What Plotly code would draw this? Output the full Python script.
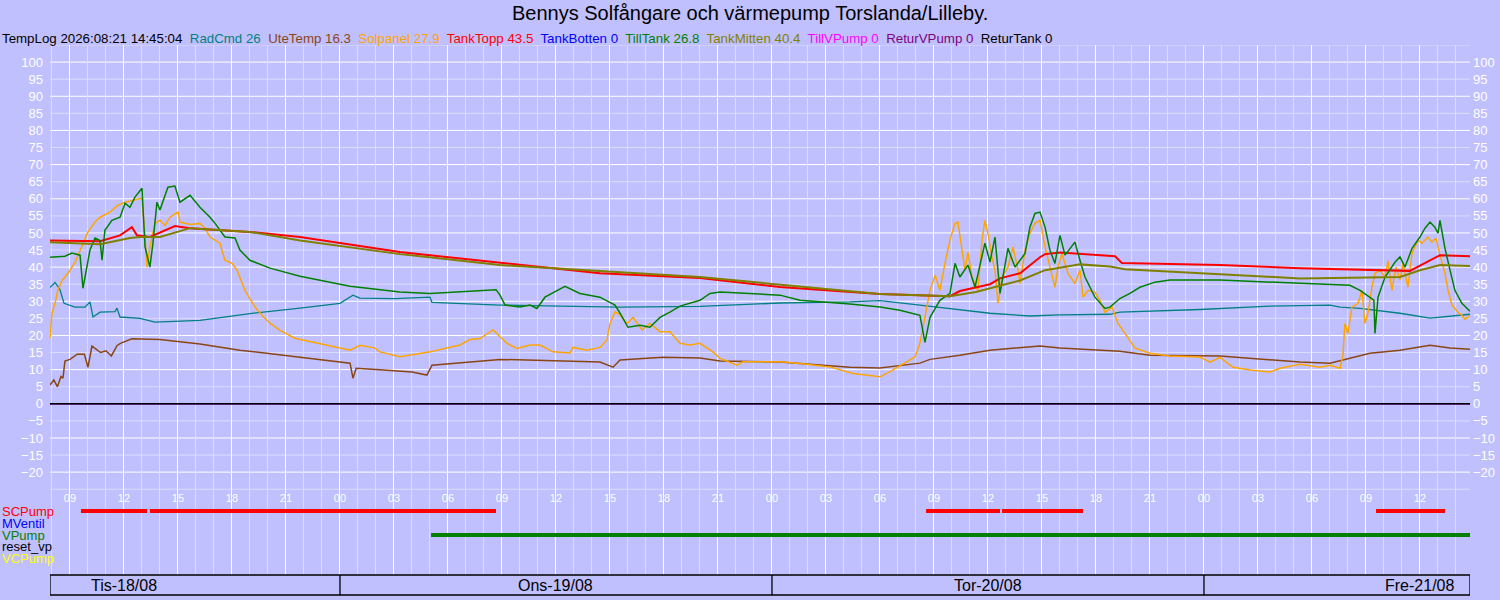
import pandas as pd
import plotly.graph_objects as go

# time axis: hours after 2026-08-18 00:00
BASE = pd.Timestamp("2026-08-18 00:00")
T_START = 7.89
T_END = 86.78

# --- temperature series (hours, degC) ---
radcmd_h = [7.89, 8.17, 8.44, 8.56, 8.67, 9.28, 9.83, 10.11, 10.28, 10.67, 11.5, 11.61, 11.78, 12.89, 13.72,
            16.22, 19.0, 21.78, 24.0, 24.72, 25.11, 27.06, 29.0, 29.11, 32.89, 36.22, 39.56, 44.0, 48.44,
            52.33, 54.0, 56.22, 57.89, 60.11, 62.33, 64.0, 66.78, 67.33, 71.78, 75.67, 79.0, 79.56, 80.67,
            82.89, 84.56, 86.22, 86.78]
radcmd_v = [34, 35.5, 33.5, 31, 29.4, 28.3, 28.3, 29.8, 25.4, 26.8, 27, 28, 25.4, 25, 23.9,
            24.4, 26.4, 28, 29.4, 31.8, 30.9, 30.8, 31.2, 29.7, 28.9, 28.6, 28.3, 28.5, 29.5,
            29.8, 30.2, 28.9, 27.9, 26.5, 25.7, 26, 26.2, 26.8, 27.6, 28.6, 28.9, 28.3, 27.9,
            26.5, 25.1, 26, 26.2]

ute_h = [7.89, 8.1, 8.3, 8.5, 8.61, 8.72, 9.0, 9.4, 9.8, 10.0, 10.22, 10.7, 11.0, 11.3, 11.61, 11.8, 12.44,
         13.17, 14.0, 16.22, 18.44, 21.78, 24.56, 24.72, 24.9, 26.22, 28.0, 28.83, 29.11, 32.89, 38.44,
         39.17, 39.56, 41.94, 44.0, 45.11, 48.44, 52.33, 54.0, 56.22, 56.78, 58.44, 60.11, 62.89, 64.0,
         67.33, 69.0, 72.89, 74.56, 77.33, 79.0, 80.11, 81.22, 82.89, 84.56, 85.67, 86.78]
ute_v = [5.5, 7, 5, 8, 7.5, 12.5, 13, 14.5, 14.5, 10.7, 16.9, 15, 15.5, 14, 17, 17.7, 19,
         19, 18.8, 17.5, 15.7, 13.6, 11.9, 7.5, 10.4, 10, 9.3, 8.4, 11.3, 13, 12.2,
         10.7, 12.8, 13.6, 13.4, 12.5, 12.2, 10.7, 10.5, 11.9, 13, 14.2, 15.7, 16.9, 16.3,
         15.4, 14.2, 14, 13.3, 12.2, 11.9, 13.3, 14.8, 15.7, 17.1, 16.3, 16]

sol_h = [7.89, 8.0, 8.17, 8.33, 8.56, 8.89, 9.28, 9.56, 10.0, 10.39, 10.67, 11.22, 11.67, 12.06, 12.61, 13.0,
         13.17, 13.28, 13.44, 13.72, 14.0, 14.28, 14.56, 15.0, 15.11, 15.67, 16.22, 16.5, 16.78, 17.33,
         17.61, 18.0, 18.28, 18.72, 19.28, 19.67, 20.11, 20.67, 21.5, 22.89, 24.0, 24.56, 25.11, 25.94,
         26.22, 27.33, 28.44, 29.0, 30.67, 31.22, 31.78, 32.5, 32.89, 33.28, 33.83, 34.56, 35.11, 35.83,
         36.78, 36.94, 37.72, 38.44, 38.83, 39.0, 39.28, 39.56, 39.94, 40.28, 40.78, 41.22, 41.78, 42.33,
         42.89, 43.44, 44.0, 44.72, 45.11, 46.06, 46.39, 48.44, 49.56, 51.22, 52.5, 54.0, 54.56, 54.72,
         55.39, 55.94, 56.22, 56.5, 56.78, 57.06, 57.33, 57.61, 57.89, 58.17, 58.33, 58.56, 58.72, 58.89,
         59.11, 59.44, 59.67, 59.83, 60.0, 60.22, 60.39, 60.56, 60.78, 61.11, 61.39, 61.67, 61.78, 62.06,
         62.33, 62.61, 62.89, 63.17, 63.44, 63.72, 63.89, 64.11, 64.44, 64.83, 65.11, 65.28, 65.56, 65.94,
         66.22, 66.5, 66.89, 67.22, 67.61, 68.17, 69.0, 70.11, 71.78, 72.33, 72.89, 73.61, 74.56, 75.67,
         76.22, 77.33, 78.44, 79.0, 79.56, 79.72, 79.83, 80.0, 80.22, 80.56, 80.78, 80.94, 81.11, 81.33,
         81.5, 81.78, 82.06, 82.22, 82.44, 82.67, 82.89, 83.06, 83.33, 83.56, 83.89, 84.11, 84.44, 84.67,
         84.89, 85.11, 85.39, 85.56, 85.78, 86.11, 86.33, 86.5, 86.78]
sol_v = [19.2, 26.5, 29.4, 33.2, 36.1, 38.2, 41.4, 45, 50.3, 53.2, 54.6, 56.1, 58.1, 59, 59.6, 60.2,
         48.8, 40, 45.9, 52.8, 53.7, 52.2, 54.6, 56.1, 53.2, 52.5, 52.8, 51.4, 48.8, 47,
         42, 41.1, 39.1, 33.2, 28.3, 25.9, 23.6, 21.5, 19.2, 17.7, 16.3, 15.7, 17.1, 16.3,
         15.2, 13.8, 14.7, 15.2, 17.2, 18.8, 19.1, 21.6, 19.6, 17.7, 16.2, 17.2, 17.2, 15.2,
         14.9, 16.5, 15.7, 16.5, 18.6, 23.5, 26.9, 26, 23.5, 25.3, 21.6, 23.5, 21.1, 21.1,
         17.7, 17.2, 17.7, 15.2, 13.3, 11.3, 12.3, 12.3, 11.8, 10.8, 8.9, 7.9, 9.4, 9.9,
         11.8, 13.7, 17.7, 25.4, 33.2, 37.6, 33.2, 41.1, 47.9, 52.8, 53.2, 45, 39.1, 44.4,
         37.1, 33.2, 47.9, 53.7, 49.9, 42.9, 39.1, 29.4, 37.1, 40, 45.9, 39.1, 35.2, 45,
         49.9, 52.8, 53.7, 45.9, 40, 34.1, 40, 44, 38.2, 35.2, 39.1, 31.2, 33.2, 32.7,
         30.3, 26.8, 28.3, 23.6, 20.6, 16.3, 14.8, 14, 13.7, 12.2, 13.6, 10.7, 9.9, 9.3,
         10.4, 11.6, 10.7, 11.3, 10.4, 14.2, 23.5, 20.6, 28.3, 29.4, 33.2, 23.5, 26.5, 34.1,
         38.2, 39.1, 37.1, 41.8, 33.2, 40, 36.2, 41.1, 34.1, 44, 47.9, 47, 48.8, 47.3,
         48.5, 43.5, 38.2, 33.2, 28.9, 26.8, 25.9, 24.7, 25.9]

topp_h = [7.89, 10.67, 11.78, 12.44, 12.72, 13.44, 14.83, 15.67, 19.0, 21.78, 27.33, 32.89, 34.0, 38.44,
          44.0, 48.44, 54.0, 57.89, 58.44, 60.11, 60.67, 61.78, 62.89, 63.17, 64.0, 67.06, 67.44, 72.89,
          77.33, 82.89, 83.44, 85.11, 86.78]
topp_v = [47.8, 47.6, 49.3, 51.7, 49.3, 48.8, 52, 51.4, 50.3, 48.8, 44.4, 41.2, 40.6, 38.2,
          36.8, 34.2, 32.1, 31.5, 33, 35, 36.7, 38.2, 42.9, 43.8, 44.3, 43.2, 41.2, 40.6,
          39.7, 39.1, 38.9, 43.5, 43.2]

botten_h = [T_START, T_END]
botten_v = [0, 0]

till_h = [7.89, 8.72, 9.11, 9.56, 9.72, 9.89, 10.11, 10.39, 10.67, 10.78, 10.94, 11.33, 11.78, 12.06, 12.33,
          12.61, 13.0, 13.17, 13.44, 13.61, 13.83, 14.0, 14.28, 14.44, 14.83, 15.11, 15.67, 16.22, 16.78,
          17.06, 17.61, 18.17, 18.44, 19.0, 20.11, 21.78, 24.56, 27.33, 29.0, 32.67, 32.89, 33.17, 34.0,
          34.56, 34.94, 35.39, 36.5, 37.33, 38.44, 39.28, 39.56, 40.0, 40.67, 41.22, 41.78, 42.33, 42.89,
          44.0, 44.56, 45.11, 48.44, 49.56, 52.33, 54.0, 55.11, 56.22, 56.5, 56.78, 57.33, 57.89, 58.17,
          58.44, 58.89, 59.28, 59.83, 60.11, 60.39, 60.67, 61.11, 61.5, 62.06, 62.33, 62.61, 62.89, 63.17,
          63.44, 63.72, 64.0, 64.28, 64.83, 65.11, 65.39, 65.94, 66.5, 66.78, 67.33, 67.89, 68.44, 69.28,
          70.11, 72.89, 77.33, 80.11, 80.67, 81.44, 81.5, 81.67, 82.06, 82.33, 82.61, 82.89, 83.17, 83.56,
          84.0, 84.28, 84.56, 84.83, 85.0, 85.11, 85.39, 85.67, 85.94, 86.33, 86.78]
till_v = [42.9, 43.2, 44.1, 43.5, 33.8, 39.1, 45, 48.5, 47.8, 42, 50.8, 53.7, 54.6, 58.7, 57.5,
          60.5, 63.1, 45.9, 40, 47, 59, 56.7, 61, 63.4, 63.7, 59, 61, 57.5, 54.6,
          52.8, 48.8, 48.5, 45, 42, 39.7, 37.3, 34.4, 32.7, 32.3, 33.4, 31.8, 28.9, 28.3,
          28.9, 27.9, 31.2, 34.4, 32.3, 31.2, 28.9, 26.5, 22.4, 23, 22.4, 25.3, 26.8, 28.6,
          30.3, 32.3, 32.7, 31.8, 30.3, 29.2, 28.3, 27.4, 25.9, 18, 25.3, 30.3, 32.3, 41.1,
          37.1, 40.6, 34.1, 47, 41.5, 48.8, 32.3, 45.5, 40, 44, 51.7, 55.7, 56.1, 51.7,
          45, 41.1, 49.3, 43.5, 47.3, 42, 37.1, 31.2, 27.9, 28.3, 30.8, 32.3, 34.1, 35.6,
          36.2, 36.2, 35.2, 34.7, 33.2, 30.3, 20.6, 31.2, 37.1, 39.1, 41.4, 43, 40, 45.5,
          48.8, 51.4, 53.2, 51.7, 49.9, 53.7, 45.5, 39.1, 33.2, 29.4, 27.1]

mitten_h = [7.89, 10.67, 12.33, 12.89, 14.0, 15.67, 19.0, 21.78, 27.33, 32.89, 44.0, 54.0, 57.89, 59.33,
            61.78, 63.17, 65.11, 66.78, 67.61, 71.78, 74.56, 77.33, 82.89, 84.0, 85.11, 86.78]
mitten_v = [47.3, 46.7, 48.5, 48.8, 48.8, 51.4, 50.3, 47.8, 43.8, 40.6, 37.1, 32.1, 31.5, 32.7,
            36.1, 39.1, 40.8, 40.2, 39.4, 38.2, 37.4, 36.7, 37.1, 39.1, 40.6, 40.3]

tillvp_h = [T_START, T_END]
tillvp_v = [0, 0]
returvp_h = [T_START, T_END]
returvp_v = [0, 0]
returtank_h = [T_START, T_END]
returtank_v = [0, 0]

# header: name, latest reading, colour
head_names = ["RadCmd", "UteTemp", "Solpanel", "TankTopp", "TankBotten", "TillTank", "TankMitten",
              "TillVPump", "ReturVPump", "ReturTank"]
head_vals = ["26", "16.3", "27.9", "43.5", "0", "26.8", "40.4", "0", "0", "0"]
head_colors = ["#008080", "#8B4513", "#FFA500", "#FF0000", "#0000FF", "#008000", "#808000",
               "#FF00FF", "#800080", "#000000"]

# pump on-intervals (hours)
pump_names = ["SCPump", "MVentil", "VPump", "reset_vp", "VCPump"]
pump_colors = ["#FF0000", "#0000FF", "#008000", "#000000", "#FFFF00"]
pump_on = {
    "SCPump": [(9.61, 13.28), (13.44, 32.67), (56.56, 60.67), (60.78, 65.28), (81.56, 85.39)],
    "MVentil": [],
    "VPump": [(29.06, 86.78)],
    "reset_vp": [],
    "VCPump": [],
}

day_labels = ["Tis-18/08", "Ons-19/08", "Tor-20/08", "Fre-21/08"]


def t(hours):
    return [BASE + pd.Timedelta(hours=h) for h in hours]


def main():
    bg = "#C0C0FF"
    minor = "#DCDCFF"
    fig = go.Figure()

    series = [
        (radcmd_h, radcmd_v, 1.3), (ute_h, ute_v, 1.5), (sol_h, sol_v, 1.5), (topp_h, topp_v, 2),
        (botten_h, botten_v, 1), (till_h, till_v, 1.5), (mitten_h, mitten_v, 2),
        (tillvp_h, tillvp_v, 1), (returvp_h, returvp_v, 1), (returtank_h, returtank_v, 1.6),
    ]
    for (h, v, w), name, col in zip(series, head_names, head_colors):
        fig.add_trace(go.Scatter(x=t(h), y=v, mode="lines", name=name,
                                 line=dict(color=col, width=w), showlegend=False))

    # pump status bars, one row per pump below the temperature area
    pump_level = dict(zip(pump_names, [-31.4, -34.9, -38.4, -41.9, -45.4]))
    for name, col in zip(pump_names, pump_colors):
        xs, ys = [], []
        for a, b in pump_on[name]:
            xs += t([a, b]) + [None]
            ys += [pump_level[name]] * 2 + [None]
        if xs:
            fig.add_trace(go.Scatter(x=xs, y=ys, mode="lines", line=dict(color=col, width=4),
                                     showlegend=False, hoverinfo="skip"))

    # dummy trace so the right-hand axis is drawn
    fig.add_trace(go.Scatter(x=t([T_START]), y=[0], yaxis="y2", mode="markers",
                             marker=dict(opacity=0), showlegend=False, hoverinfo="skip"))

    shapes = []
    # horizontal grid
    for val in range(-25, 106, 5):
        shapes.append(dict(type="line", xref="x domain", x0=0, x1=1, yref="y", y0=val, y1=val,
                           line=dict(color="white" if val % 10 == 0 else minor, width=1), layer="below"))
    # day band
    shapes.append(dict(type="rect", xref="x", x0=t([T_START])[0], x1=t([T_END])[0],
                       yref="paper", y0=-0.0377, y1=0, line=dict(color="black", width=1.3)))
    for d in [24, 48, 72]:
        shapes.append(dict(type="line", xref="x", x0=t([d])[0], x1=t([d])[0],
                           yref="paper", y0=-0.0377, y1=0, line=dict(color="black", width=1.3)))

    ann = []
    for i, lab in enumerate(day_labels):
        ann.append(dict(x=t([12 + 24 * i])[0], xref="x", y=-0.0189, yref="paper", yanchor="middle",
                        text=lab, showarrow=False, font=dict(size=16, color="black")))
    for i, (name, col) in enumerate(zip(pump_names, pump_colors)):
        ann.append(dict(x=-50 / 1420, xref="paper", xanchor="left", y=pump_level[name], yref="y",
                        yanchor="middle", text=name, showarrow=False, font=dict(size=13, color=col)))
    header = "TempLog 2026:08:21 14:45:04&nbsp; " + "&nbsp; ".join(
        f'<span style="color:{c}">{n} {v}</span>' for n, v, c in zip(head_names, head_vals, head_colors))
    ann.append(dict(x=-50 / 1420, xref="paper", xanchor="left", y=1.0132, yref="paper", yanchor="middle",
                    text=header, showarrow=False, font=dict(size=13.3, color="black")))
    ann.append(dict(x=700 / 1420, xref="paper", y=1.0604, yref="paper", yanchor="middle",
                    text="Bennys Solfångare och värmepump Torslanda/Lilleby.", showarrow=False,
                    font=dict(size=20, color="black")))

    yticks = list(range(-20, 101, 5))
    fig.update_layout(
        width=1500, height=600,
        margin=dict(l=50, r=30, t=45, b=25, autoexpand=False),
        paper_bgcolor=bg, plot_bgcolor=bg,
        font=dict(family="Liberation Sans, Arial, sans-serif"),
        shapes=shapes, annotations=ann,
        xaxis=dict(type="date", range=[t([T_START])[0], t([T_END])[0]], anchor="free", position=0.1604,
                   tickformat="%H", tick0=BASE, dtick=3 * 3600 * 1000, ticks="",
                   showgrid=True, gridcolor="white", gridwidth=1,
                   minor=dict(dtick=3600 * 1000, showgrid=True, gridcolor=minor),
                   tickfont=dict(size=11, color="white"), showline=False, zeroline=False),
        yaxis=dict(range=[-50.1, 105], tickvals=yticks, showgrid=False, zeroline=False, ticks="",
                   tickfont=dict(size=13, color="white"), ticklabelstandoff=6, automargin=False),
        yaxis2=dict(range=[-50.1, 105], overlaying="y", side="right", tickvals=yticks, showgrid=False,
                    zeroline=False, ticks="", tickfont=dict(size=13, color="white"), ticklabelstandoff=2,
                    automargin=False),
    )

    fig.write_html("out.html", config={"displayModeBar": False},
                   post_script="document.body.style.margin='0';")


if __name__ == "__main__": main()
